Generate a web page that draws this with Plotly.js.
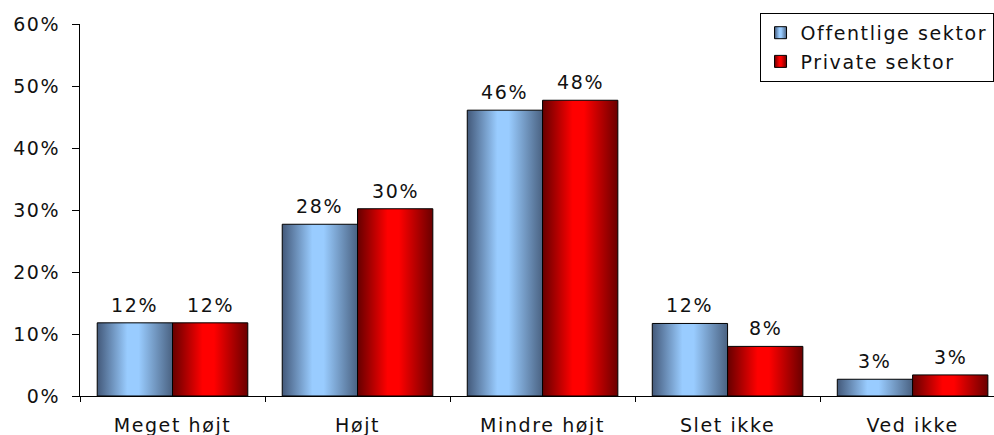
<!DOCTYPE html>
<html>
<head>
<meta charset="utf-8">
<script src="https://cdn.plot.ly/plotly-3.0.1.min.js"></script>
<style>
  html, body { margin: 0; padding: 0; background: #fff; }
  #chart { width: 994px; height: 435px; }
  /* applies to Plotly's hidden measuring svg too, so text boxes are sized correctly */
  svg text { letter-spacing: 1.6px; }
</style>
</head>
<body>
<div id="chart"></div>
<script>
// Answer categories on the x axis
const categories = ['Meget højt', 'Højt', 'Mindre højt', 'Slet ikke', 'Ved ikke'];
// Share of respondents per sector
const offentligeSektor = [0.118, 0.277, 0.461, 0.117, 0.027];
const privateSektor    = [0.118, 0.302, 0.477, 0.080, 0.034];
const seriesNames = ['Offentlige sektor', 'Private sektor'];
const yTickValues = [0, 0.1, 0.2, 0.3, 0.4, 0.5, 0.6];

const FONT = { family: 'DejaVu Sans, Verdana, sans-serif', size: 19, color: '#111' };
const BARGAP = 0.186;
const halfBar = (1 - BARGAP) / 4;   // offset of each bar centre from the category centre

const series = [offentligeSektor, privateSektor];
const baseColors = ['#99ccff', '#ff0000'];

const traces = series.map((vals, i) => ({
  type: 'bar',
  name: seriesNames[i],
  x: categories,
  y: vals,
  legendgroup: 'g' + i,
  marker: { color: baseColors[i], line: { color: '#000', width: 1 } },
  hoverinfo: 'x+y'
}));

// value labels above each bar, rounded to whole percent
const annotations = [];
series.forEach((vals, i) => {
  vals.forEach((v, k) => {
    annotations.push({
      x: k + (i === 0 ? -halfBar : halfBar),
      y: v,
      xref: 'x', yref: 'y',
      text: Math.round(v * 100) + '%',
      showarrow: false,
      yanchor: 'bottom',
      yshift: 5,
      font: FONT
    });
  });
});

const layout = {
  width: 994, height: 435,
  margin: { l: 80, r: 0, t: 24, b: 39 },
  paper_bgcolor: '#fff', plot_bgcolor: '#fff',
  font: FONT,
  barmode: 'group',
  bargap: BARGAP,
  bargroupgap: 0,
  showlegend: true,
  legend: {
    x: 0.9995, xanchor: 'right', y: 1.03, yanchor: 'top',
    bgcolor: '#fff', bordercolor: '#000', borderwidth: 1,
    font: FONT, traceorder: 'grouped', tracegroupgap: 1,
    itemwidth: 30
  },
  xaxis: {
    type: 'category',
    range: [-0.5, 4.44],
    showgrid: false, zeroline: false,
    showline: true, linecolor: '#000', linewidth: 1,
    ticks: 'outside', tickson: 'boundaries', ticklen: 5, tickcolor: '#000',
    ticklabelstandoff: 12,
    tickfont: FONT
  },
  yaxis: {
    range: [0, 0.6],
    tickvals: yTickValues,
    tickformat: '.0%',
    showgrid: false, zeroline: false,
    showline: true, linecolor: '#000', linewidth: 1,
    ticks: 'outside', ticklen: 7, tickcolor: '#000',
    ticklabelstandoff: 8,
    tickfont: FONT
  },
  annotations: annotations
};

// horizontal shading across each bar: dark edges, light centre
const gradients = [
  { id: 'shadeBlue', stops: [['0%', '#43597a'], ['40%', '#99ccff'], ['55%', '#99ccff'], ['100%', '#4a6282']] },
  { id: 'shadeRed',  stops: [['0%', '#660000'], ['40%', '#ff0000'], ['55%', '#ff0000'], ['100%', '#6a0000']] }
];

function applyShading(gd) {
  const NS = 'http://www.w3.org/2000/svg';
  const svg = gd.querySelector('svg.main-svg');
  let defs = svg.querySelector('defs');
  if (!defs) { defs = document.createElementNS(NS, 'defs'); svg.insertBefore(defs, svg.firstChild); }
  gradients.forEach(g => {
    if (document.getElementById(g.id)) return;
    const lg = document.createElementNS(NS, 'linearGradient');
    lg.setAttribute('id', g.id);
    lg.setAttribute('x1', '0'); lg.setAttribute('y1', '0');
    lg.setAttribute('x2', '1'); lg.setAttribute('y2', '0');
    g.stops.forEach(([off, col]) => {
      const s = document.createElementNS(NS, 'stop');
      s.setAttribute('offset', off);
      s.setAttribute('stop-color', col);
      lg.appendChild(s);
    });
    defs.appendChild(lg);
  });
  gd.querySelectorAll('.barlayer .trace').forEach((t, i) => {
    t.querySelectorAll('path').forEach(p => { p.style.fill = 'url(#' + gradients[i % 2].id + ')'; });
  });
  gd.querySelectorAll('.legend .traces').forEach((t, i) => {
    t.querySelectorAll('.legendpoints path').forEach(p => { p.style.fill = 'url(#' + gradients[i % 2].id + ')'; });
  });
}

const gd = document.getElementById('chart');
Plotly.newPlot(gd, traces, layout, { displayModeBar: false, staticPlot: true }).then(() => {
  applyShading(gd);
  gd.on('plotly_afterplot', () => applyShading(gd));
});
</script>
</body>
</html>
